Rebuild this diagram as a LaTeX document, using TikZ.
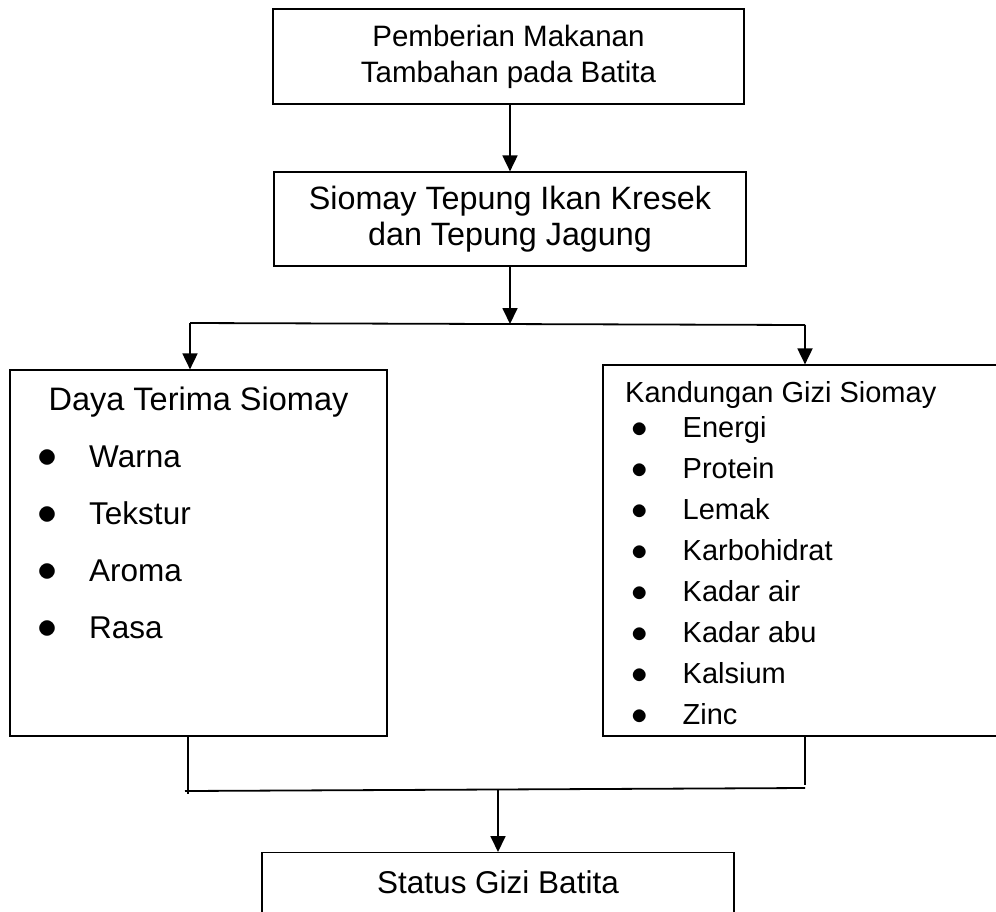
\documentclass[tikz,border=0pt]{standalone}
\usepackage{fix-cm}
\usepackage{fontspec}
\setmainfont{Liberation Sans}
\usetikzlibrary{positioning, arrows.meta}

\newcommand{\bitem}[1]{\makebox[51.5pt][l]{\fontsize{#1}{#1}\selectfont\smash{$\bullet$}}}

\begin{document}
\begin{tikzpicture}[x=1pt, y=-1pt,
  box/.style={rectangle, draw, line width=1.2pt, align=center, inner sep=0pt},
  link/.style={line width=1.8pt},
  arr/.style={-{Triangle[length=16pt, width=15pt]}, line width=1.8pt},
  head/.style={inner sep=0pt, anchor=base},
  item/.style={inner sep=0pt, anchor=base west}
]
  \useasboundingbox (0,0) rectangle (996,911);
  \clip (0,0) rectangle (996,911);

  \node[box, minimum width=471pt, minimum height=95pt, font=\fontsize{29.5}{36}\selectfont]
    (pmt) at (508.5,56.5) {Pemberian Makanan\\Tambahan pada Batita};
  \node[box, minimum width=472pt, minimum height=94pt, font=\fontsize{32.3}{36}\selectfont]
    (siomay) at (510,219) {Siomay Tepung Ikan Kresek\\dan Tepung Jagung};
  \node[box, minimum width=377pt, minimum height=366pt] (daya) at (198.5,553) {};
  \node[box, minimum width=407pt, minimum height=371pt] (gizi) at (806.5,550.5) {};
  \node[box, anchor=north, minimum width=472pt, inner ysep=18pt, text depth=30pt,
    font=\fontsize{31.5}{36}\selectfont] (status) at (498,852) {Status Gizi Batita};

  % isi kotak daya terima
  \node[head, font=\fontsize{32.5}{36}\selectfont] (dayaT) at (198.5,410) {Daya Terima Siomay};
  \foreach \txt [count=\i from 0] in {Warna, Tekstur, Aroma, Rasa}
    \node[item, font=\fontsize{31.5}{36}\selectfont] (daya\i) at (37.5,467+57*\i) {\bitem{40}\txt};

  % isi kotak kandungan gizi
  \node[head, anchor=base west, font=\fontsize{29}{36}\selectfont] (giziT) at (625,402) {Kandungan Gizi Siomay};
  \foreach \txt [count=\i from 0] in {Energi, Protein, Lemak, Karbohidrat,
                                      Kadar air, Kadar abu, Kalsium, Zinc}
    \node[item, font=\fontsize{29}{36}\selectfont] (gizi\i) at (631,437+41*\i) {\bitem{33}\txt};

  \coordinate (fork) at (510,324);
  \coordinate (forkL) at (190,323);
  \coordinate (forkR) at (805,325);
  \coordinate (joinL) at (188,791);
  \coordinate (joinR) at (805,788);
  \coordinate (join) at (498,789);

  \draw[arr] (pmt.south -| siomay.north) -- (siomay.north);
  \draw[arr] (siomay.south) -- (fork);
  \draw[link] (forkL) -- (forkR);
  \draw[arr] (forkL) -- (forkL |- daya.north);
  \draw[arr] (forkR) -- (forkR |- gizi.north);

  \draw[link] (daya.south -| joinL) -- ([yshift=-3pt]joinL);
  \draw[link] (gizi.south -| joinR) -- ([yshift=3pt]joinR);
  \draw[link] ([xshift=-3pt]joinL) -- (joinR);
  \draw[arr] (join) -- (status.north);
\end{tikzpicture}
\end{document}
